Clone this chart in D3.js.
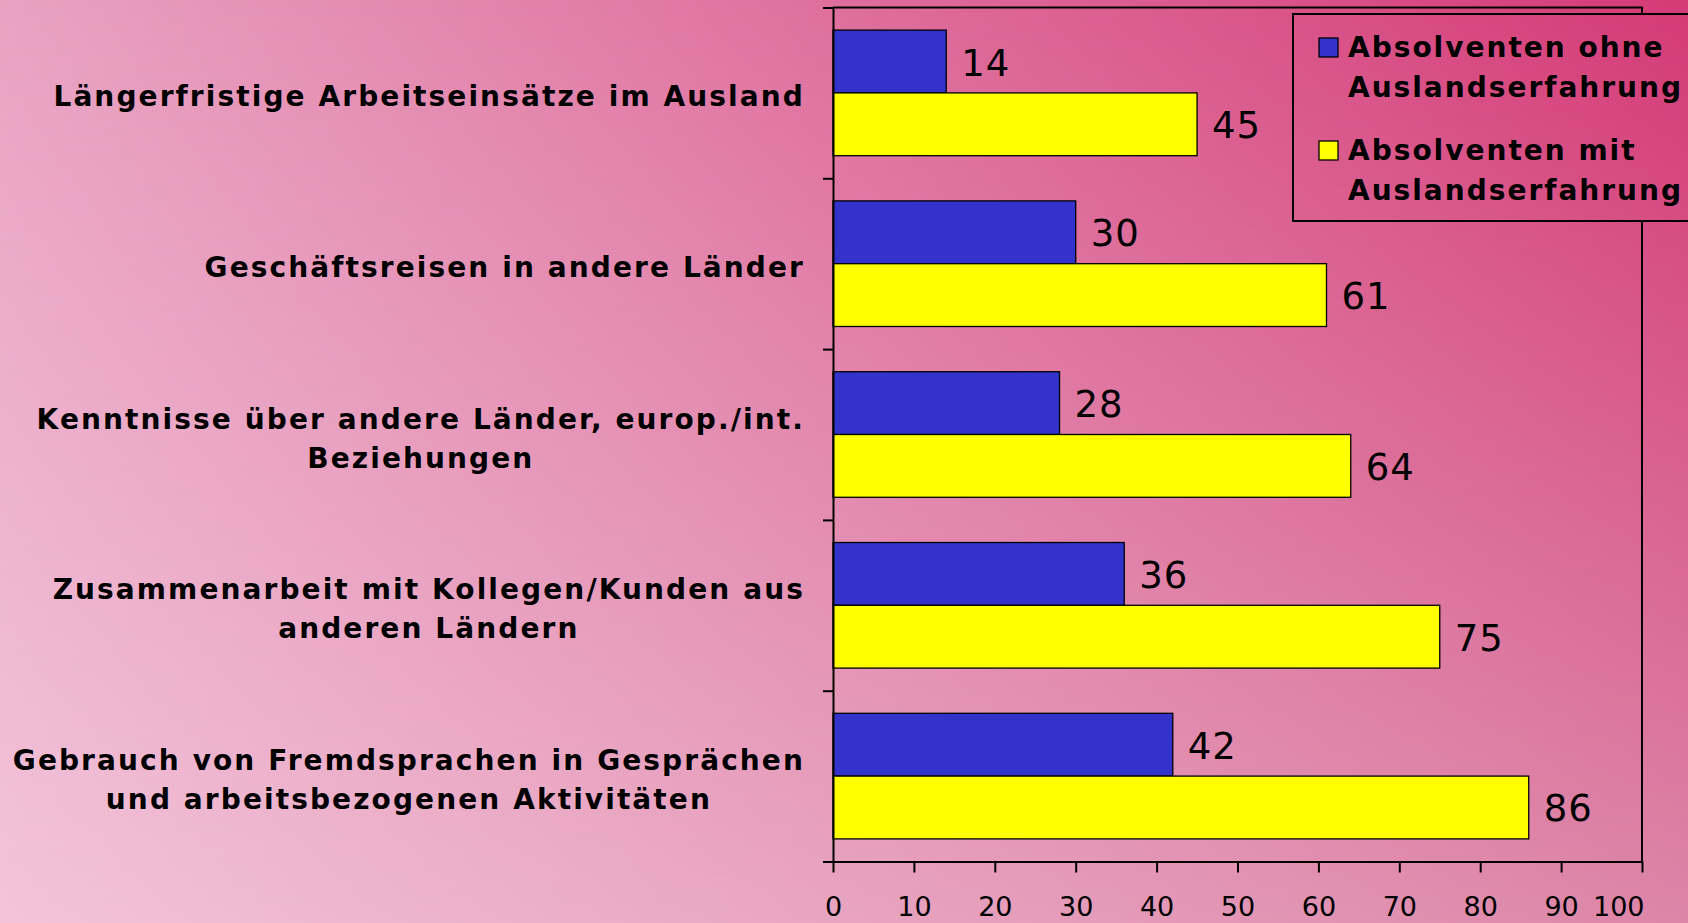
<!DOCTYPE html>
<html>
<head>
<meta charset="utf-8">
<script src="https://cdn.jsdelivr.net/npm/d3@7"></script>
<style>
  html, body { margin: 0; padding: 0; overflow: hidden; }
  svg { display: block; font-family: "DejaVu Sans", Verdana, sans-serif; }
</style>
</head>
<body>
<svg id="chart" width="1688" height="923"></svg>
<script>
'use strict';

// chart data
var categories = [
  "Längerfristige Arbeitseinsätze im Ausland",
  "Geschäftsreisen in andere Länder",
  "Kenntnisse über andere Länder, europ./int. Beziehungen",
  "Zusammenarbeit mit Kollegen/Kunden aus anderen Ländern",
  "Gebrauch von Fremdsprachen in Gesprächen und arbeitsbezogenen Aktivitäten"
];
// how each category label is broken into lines
var categoryLines = [
  ["Längerfristige Arbeitseinsätze im Ausland"],
  ["Geschäftsreisen in andere Länder"],
  ["Kenntnisse über andere Länder, europ./int.", "Beziehungen"],
  ["Zusammenarbeit mit Kollegen/Kunden aus", "anderen Ländern"],
  ["Gebrauch von Fremdsprachen in Gesprächen", "und arbeitsbezogenen Aktivitäten"]
];
var seriesNames = ["ohne", "mit"];
var seriesLabels = [
  ["Absolventen ohne", "Auslandserfahrung"],
  ["Absolventen mit", "Auslandserfahrung"]
];
var valuesOhne = [14, 30, 28, 36, 42];
var valuesMit  = [45, 61, 64, 75, 86];
var xTicks = [0, 10, 20, 30, 40, 50, 60, 70, 80, 90, 100];

var colors = { ohne: "#3333cc", mit: "#ffff00" };

var W = 1688, H = 923;
var plot = { left: 833, right: 1642, top: 7.5, bottom: 861.5 };

var svg = d3.select("#chart");
var defs = svg.append("defs");

// background: bilinear blend of the four corner colours
var corner = { tl: "#e8a2c2", tr: "#d43a76", bl: "#f3c4da", br: "#dd86a8" };

var gTop = defs.append("linearGradient").attr("id", "gTop")
  .attr("x1", 0).attr("y1", 0).attr("x2", 1).attr("y2", 0);
gTop.append("stop").attr("offset", 0).attr("stop-color", corner.tl);
gTop.append("stop").attr("offset", 1).attr("stop-color", corner.tr);

var gBot = defs.append("linearGradient").attr("id", "gBot")
  .attr("x1", 0).attr("y1", 0).attr("x2", 1).attr("y2", 0);
gBot.append("stop").attr("offset", 0).attr("stop-color", corner.bl);
gBot.append("stop").attr("offset", 1).attr("stop-color", corner.br);

var gFade = defs.append("linearGradient").attr("id", "gFade")
  .attr("x1", 0).attr("y1", 0).attr("x2", 0).attr("y2", 1);
gFade.append("stop").attr("offset", 0).attr("stop-color", "#fff");
gFade.append("stop").attr("offset", 1).attr("stop-color", "#000");

defs.append("mask").attr("id", "fadeMask")
  .attr("maskUnits", "userSpaceOnUse")
  .attr("x", 0).attr("y", 0).attr("width", W).attr("height", H)
  .append("rect").attr("width", W).attr("height", H).attr("fill", "url(#gFade)");

function drawBackground(g) {
  g.append("rect").attr("width", W).attr("height", H).attr("fill", "url(#gBot)");
  g.append("rect").attr("width", W).attr("height", H).attr("fill", "url(#gTop)")
    .attr("mask", "url(#fadeMask)");
}
drawBackground(svg.append("g"));

// scales
var x = d3.scaleLinear().domain([0, 100]).range([plot.left, plot.right]);
var y0 = d3.scaleBand().domain(categories).range([plot.top, plot.bottom]).padding(0);
var y1 = d3.scaleBand().domain(seriesNames).range([0, y0.bandwidth()])
  .paddingInner(0).paddingOuter(0.36);
var yEdge = d3.scaleLinear().domain([0, categories.length]).range([plot.top, plot.bottom]);

var rows = categories.map(function (c, i) {
  return { cat: c, lines: categoryLines[i], ohne: valuesOhne[i], mit: valuesMit[i] };
});

// plot frame (top and right)
svg.append("path")
  .attr("d", "M" + plot.left + "," + plot.top + "H" + plot.right + "V" + plot.bottom)
  .attr("fill", "none").attr("stroke", "#000").attr("stroke-width", 2);

// bars
var groups = svg.append("g").selectAll("g").data(rows).enter().append("g")
  .attr("transform", function (d) { return "translate(0," + y0(d.cat) + ")"; });

seriesNames.forEach(function (s) {
  groups.append("rect")
    .attr("x", x(0))
    .attr("y", y1(s))
    .attr("width", function (d) { return x(d[s]) - x(0); })
    .attr("height", y1.bandwidth())
    .attr("fill", colors[s])
    .attr("stroke", "#000")
    .attr("stroke-width", 1.3);

  groups.append("text")
    .attr("x", function (d) { return x(d[s]) + 15; })
    .attr("y", y1(s) + y1.bandwidth() / 2 + 14)
    .attr("font-size", 37)
    .attr("letter-spacing", 1)
    .attr("fill", "#000")
    .text(function (d) { return d[s]; });
});

// axes
var xAxis = svg.append("g")
  .attr("transform", "translate(0," + plot.bottom + ")")
  .call(d3.axisBottom(x).tickValues(xTicks).tickSize(11).tickSizeOuter(0).tickPadding(24));
xAxis.selectAll("text").attr("font-size", 27).attr("font-family", "DejaVu Sans").attr("fill", "#000");
// last label is pulled in so it ends at its tick
xAxis.selectAll(".tick text").filter(function (d) { return d === 100; })
  .attr("text-anchor", "end").attr("dx", 2);

var yAxis = svg.append("g")
  .attr("transform", "translate(" + plot.left + ",0)")
  .call(d3.axisLeft(yEdge).ticks(categories.length).tickSize(10).tickSizeOuter(0).tickFormat(""));

svg.selectAll(".domain, .tick line").attr("stroke", "#000").attr("stroke-width", 2);

// category labels, each block centred and right aligned to the axis
var labelRight = 805, lineGap = 39;
rows.forEach(function (d) {
  var n = d.lines.length;
  var cy = y0(d.cat) + y0.bandwidth() / 2;
  var t = svg.append("text")
    .attr("font-size", 28).attr("font-weight", "bold")
    .attr("letter-spacing", 2.1)
    .attr("text-anchor", "middle").attr("fill", "#000");
  d.lines.forEach(function (line, k) {
    t.append("tspan")
      .attr("y", cy + 13.5 - (n - 1) * lineGap / 2 + k * lineGap)
      .text(line);
  });
  var widest = d3.max(t.selectAll("tspan").nodes(), function (n) { return n.getComputedTextLength(); });
  t.selectAll("tspan").attr("x", labelRight - widest / 2);
});

// legend
var legX = 1293, legY = 14, legW = 420, legH = 207;
var legClip = defs.append("clipPath").attr("id", "legClip");
legClip.append("rect").attr("x", legX).attr("y", legY).attr("width", legW).attr("height", legH);
drawBackground(svg.append("g").attr("clip-path", "url(#legClip)"));
svg.append("rect")
  .attr("x", legX).attr("y", legY).attr("width", legW).attr("height", legH)
  .attr("fill", "none").attr("stroke", "#000").attr("stroke-width", 2);

var legend = svg.append("g").selectAll("g").data(seriesNames).enter().append("g")
  .attr("transform", function (d, i) { return "translate(1319," + (38 + i * 103) + ")"; });
legend.append("rect")
  .attr("width", 19).attr("height", 19)
  .attr("fill", function (d) { return colors[d]; })
  .attr("stroke", "#000").attr("stroke-width", 1.3);
legend.append("text")
  .attr("font-size", 28).attr("font-weight", "bold").attr("fill", "#000")
  .attr("letter-spacing", 2)
  .selectAll("tspan").data(function (d, i) { return seriesLabels[i]; }).enter().append("tspan")
  .attr("x", 29)
  .attr("y", function (d, k) { return 19 + k * 40; })
  .text(function (d) { return d; });
</script>
</body>
</html>
